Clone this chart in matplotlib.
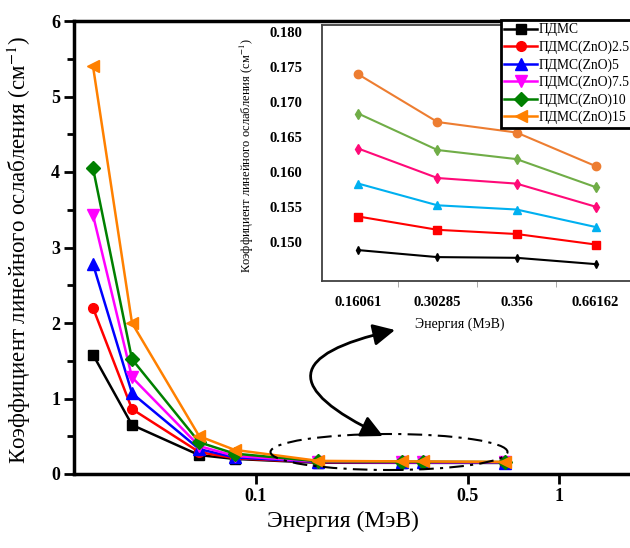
import matplotlib
matplotlib.use("Agg")
import matplotlib.pyplot as plt
from matplotlib.patches import Ellipse, FancyArrowPatch
from matplotlib.ticker import MultipleLocator, NullLocator

plt.rcParams["font.family"] = ["Liberation Serif", "DejaVu Serif"]
plt.rcParams["mathtext.fontset"] = "stix"

# энергии фотонов, МэВ
energy = [0.029, 0.039, 0.065, 0.085, 0.16061, 0.30285, 0.356, 0.66162]
inset_labels = ["0.16061", "0.30285", "0.356", "0.66162"]

names = ["ПДМС", "ПДМС(ZnO)2.5", "ПДМС(ZnO)5", "ПДМС(ZnO)7.5",
         "ПДМС(ZnO)10", "ПДМС(ZnO)15"]

# линейный коэффициент ослабления, см^-1
mu_pdms = [1.58, 0.65, 0.25, 0.20, 0.1488, 0.1478, 0.1477, 0.1468]
mu_zno25 = [2.20, 0.86, 0.29, 0.21, 0.1536, 0.1517, 0.1511, 0.1496]
mu_zno5 = [2.78, 1.07, 0.33, 0.22, 0.1583, 0.1552, 0.1546, 0.1521]
mu_zno75 = [3.43, 1.28, 0.37, 0.24, 0.1633, 0.1591, 0.1583, 0.1550]
mu_zno10 = [4.05, 1.52, 0.42, 0.27, 0.1683, 0.1631, 0.1618, 0.1578]
mu_zno15 = [5.40, 2.00, 0.50, 0.32, 0.1739, 0.1671, 0.1656, 0.1608]

series = [mu_pdms, mu_zno25, mu_zno5, mu_zno75, mu_zno10, mu_zno15]
colors = ["black", "#FF0000", "#0000FF", "#FF00FF", "#008000", "#FF8000"]
markers = ["s", "o", "^", "v", "D", "<"]
msizes = [7, 7, 8, 8, 7, 8]

inset_colors = ["black", "#FF0000", "#00B0F0", "#FF0A78", "#70AD47", "#ED7D31"]
inset_markers = ["d", "s", "^", "d", "d", "o"]
inset_msizes = [4, 6, 6, 5, 5, 6]

W, H = 630, 548
fig = plt.figure(figsize=(W / 100, H / 100), dpi=100)

# основной график
ax = fig.add_axes([74 / W, 74 / H, 566 / W, 453 / H])
lines = []
for vals, c, m, ms, lab in zip(series, colors, markers, msizes, names):
    ln, = ax.plot(energy, vals, color=c, marker=m, markersize=ms,
                  markeredgecolor=c, lw=1.8, label=lab)
    lines.append(ln)

ax.set_xscale("log")
ax.set_xlim(0.0251, 1.85)
ax.set_ylim(0, 6)
ax.set_xticks([0.1, 0.5, 1])
ax.set_xticklabels(["0.1", "0.5", "1"], fontweight="bold", fontsize=13)
ax.xaxis.set_minor_locator(NullLocator())
ax.set_yticks(range(7))
ax.set_yticklabels([str(v) for v in range(7)], fontweight="bold", fontsize=13)
ax.yaxis.set_minor_locator(MultipleLocator(0.5))
ax.tick_params(which="major", direction="out", length=7, width=2, pad=3)
ax.tick_params(which="minor", direction="out", length=5, width=2)
for side in ["left", "bottom", "top"]:
    ax.spines[side].set_linewidth(2.5)
ax.spines["right"].set_visible(False)

ax.set_xlabel("Энергия (МэВ)", fontsize=17)
ax.xaxis.set_label_coords(0.475, -0.082)
ax.set_ylabel("Коэффициент линейного ослабления (см$^{-1}$)", fontsize=16.5)
ax.yaxis.set_label_coords(-0.072, 0.494)

# врезка с увеличенным участком 0.16–0.66 МэВ
ins = fig.add_axes([322 / W, (H - 280.7) / H, 310 / W, 256.2 / H])
xpos = list(range(len(inset_labels)))
for vals, c, m, ms in zip(series, inset_colors, inset_markers, inset_msizes):
    ins.plot(xpos, vals[4:], color=c, marker=m, markersize=ms,
             markeredgecolor=c, lw=1.5)
ins.set_xlim(-0.46, 3.46)
ins.set_ylim(0.14443, 0.18103)
ins.set_xticks(xpos)
ins.set_xticklabels(inset_labels, fontweight="bold", fontsize=10.5)
ins.set_xticks([0.5, 1.5, 2.5], minor=True)
ins.set_yticks([0.150, 0.155, 0.160, 0.165, 0.170, 0.175, 0.180])
ins.set_yticklabels(["%.3f" % v for v in ins.get_yticks()],
                    fontweight="bold", fontsize=10.5)
ins.tick_params(which="major", length=0)
ins.tick_params(axis="x", which="major", pad=11)
ins.tick_params(axis="y", which="major", pad=14)
ins.tick_params(axis="x", which="minor", direction="out", length=4,
                color="#999999")
for sp in ins.spines.values():
    sp.set_color("#404040")
    sp.set_linewidth(1.3)
ins.set_xlabel("Энергия (МэВ)", fontsize=10)
ins.xaxis.set_label_coords(0.445, -0.142)
ins.set_ylabel("Коэффициент линейного ослабления (см$^{-1}$)", fontsize=9)
ins.yaxis.set_label_coords(-0.213, 0.487)

leg = fig.legend(lines, names, loc="upper left",
                 bbox_to_anchor=(501 / W, 1 - 20 / H),
                 bbox_transform=fig.transFigure, fontsize=9.8,
                 handlelength=2.4, handletextpad=0.15, labelspacing=0.3,
                 borderpad=0.25, borderaxespad=0, fancybox=False,
                 framealpha=1, edgecolor="black")
leg.get_frame().set_linewidth(2)

# выделение области и стрелка к врезке
ell = Ellipse((389 / W, 1 - 452 / H), 237 / W, 36 / H,
              transform=fig.transFigure, fill=False, edgecolor="black",
              lw=1.5, ls=(0, (7, 3, 1.5, 3)))
fig.add_artist(ell)
arrow = FancyArrowPatch((383 / W, 1 - 436 / H), (395 / W, 1 - 330 / H),
                        transform=fig.transFigure,
                        connectionstyle="arc3,rad=-1.45",
                        arrowstyle="<|-|>,head_length=0.6,head_width=0.3",
                        mutation_scale=22, lw=2, color="black",
                        shrinkA=0, shrinkB=0)
fig.add_artist(arrow)

fig.savefig("out.png", dpi=100)
